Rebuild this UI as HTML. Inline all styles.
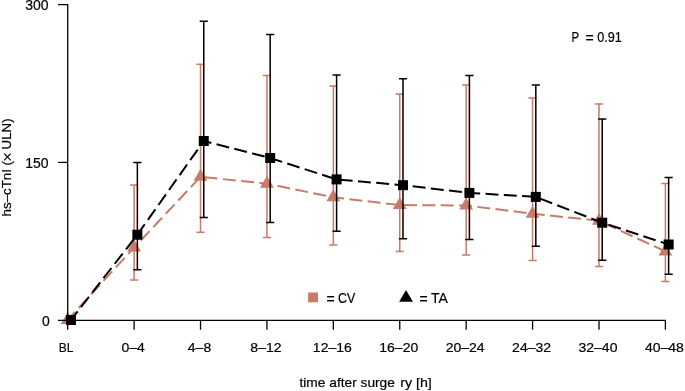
<!DOCTYPE html>
<html><head><meta charset="utf-8"><style>
html,body{margin:0;padding:0;background:#fff;width:685px;height:391px;overflow:hidden}
svg{display:block;font-family:"Liberation Sans",sans-serif}
</style></head><body>
<svg width="685" height="391" viewBox="0 0 685 391">
<rect width="685" height="391" fill="#fff"/>
<g stroke="#C77B68" stroke-width="1.5" fill="none"><path d="M134.11 185 V279.9 M130.01 185 H138.21 M130.01 279.9 H138.21"/><path d="M200.52 64.2 V232.2 M196.42 64.2 H204.62 M196.42 232.2 H204.62"/><path d="M266.93 75.5 V237.4 M262.83 75.5 H271.03 M262.83 237.4 H271.03"/><path d="M333.34 85.9 V244.9 M329.24 85.9 H337.44 M329.24 244.9 H337.44"/><path d="M399.75 94 V251.6 M395.65 94 H403.85 M395.65 251.6 H403.85"/><path d="M466.16 84.9 V255 M462.06 84.9 H470.26 M462.06 255 H470.26"/><path d="M532.57 98.1 V260.5 M528.47 98.1 H536.67 M528.47 260.5 H536.67"/><path d="M598.98 104 V266.4 M594.88 104 H603.08 M594.88 266.4 H603.08"/><path d="M665.39 183.4 V281.5 M661.29 183.4 H669.49 M661.29 281.5 H669.49"/></g><polyline points="67.7,320 134.11,247.5 200.52,176.8 266.93,183.7 333.34,197.3 399.75,205 466.16,205.5 532.57,213.7 598.98,220.7 665.39,251.4" fill="none" stroke="#C77B68" stroke-width="2" stroke-dasharray="12.95 5.37" stroke-dashoffset="2.0"/><path d="M67.7 312 L74.6 324 L60.8 324Z" fill="#C77B68"/><path d="M134.11 239.5 L141.01 251.5 L127.21 251.5Z" fill="#C77B68"/><path d="M200.52 168.8 L207.42 180.8 L193.62 180.8Z" fill="#C77B68"/><path d="M266.93 175.7 L273.83 187.7 L260.03 187.7Z" fill="#C77B68"/><path d="M333.34 189.3 L340.24 201.3 L326.44 201.3Z" fill="#C77B68"/><path d="M399.75 197 L406.65 209 L392.85 209Z" fill="#C77B68"/><path d="M466.16 197.5 L473.06 209.5 L459.26 209.5Z" fill="#C77B68"/><path d="M532.57 205.7 L539.47 217.7 L525.67 217.7Z" fill="#C77B68"/><path d="M598.98 212.7 L605.88 224.7 L592.08 224.7Z" fill="#C77B68"/><path d="M665.39 243.4 L672.29 255.4 L658.49 255.4Z" fill="#C77B68"/><g stroke="#000" stroke-width="1.3" fill="none" stroke-linecap="butt"><path d="M67.7 4.0 V329.7"/><path d="M58 4.6 H67.7"/><path d="M58 162.4 H67.7"/><path d="M58 320.35 H666.04"/><path d="M134.11 320.35 V329.7"/><path d="M200.52 320.35 V329.7"/><path d="M266.93 320.35 V329.7"/><path d="M333.34 320.35 V329.7"/><path d="M399.75 320.35 V329.7"/><path d="M466.16 320.35 V329.7"/><path d="M532.57 320.35 V329.7"/><path d="M598.98 320.35 V329.7"/><path d="M665.39 320.35 V329.7"/></g><g stroke="#000" stroke-width="1.5" fill="none"><path d="M137.36 162.5 V269.8 M133.26 162.5 H141.46 M133.26 269.8 H141.46"/><path d="M203.77 21.25 V217.4 M199.67 21.25 H207.87 M199.67 217.4 H207.87"/><path d="M270.18 34.47 V222.5 M266.08 34.47 H274.28 M266.08 222.5 H274.28"/><path d="M336.59 75 V231.3 M332.49 75 H340.69 M332.49 231.3 H340.69"/><path d="M403 78.8 V238.8 M398.9 78.8 H407.1 M398.9 238.8 H407.1"/><path d="M469.41 75.5 V239.6 M465.31 75.5 H473.51 M465.31 239.6 H473.51"/><path d="M535.82 85.1 V246.2 M531.72 85.1 H539.92 M531.72 246.2 H539.92"/><path d="M602.23 119 V260.3 M598.13 119 H606.33 M598.13 260.3 H606.33"/><path d="M668.64 177.6 V274.2 M664.54 177.6 H672.74 M664.54 274.2 H672.74"/></g><polyline points="70.95,320 137.36,234.7 203.77,141 270.18,158 336.59,179.4 403,185.2 469.41,192.9 535.82,196.9 602.23,222.7 668.64,244.5" fill="none" stroke="#000" stroke-width="2" stroke-dasharray="12.95 5.37" stroke-dashoffset="2.0"/><rect x="65.95" y="315" width="10" height="10" fill="#000"/><rect x="132.36" y="229.7" width="10" height="10" fill="#000"/><rect x="198.77" y="136" width="10" height="10" fill="#000"/><rect x="265.18" y="153" width="10" height="10" fill="#000"/><rect x="331.59" y="174.4" width="10" height="10" fill="#000"/><rect x="398" y="180.2" width="10" height="10" fill="#000"/><rect x="464.41" y="187.9" width="10" height="10" fill="#000"/><rect x="530.82" y="191.9" width="10" height="10" fill="#000"/><rect x="597.23" y="217.7" width="10" height="10" fill="#000"/><rect x="663.64" y="239.5" width="10" height="10" fill="#000"/><rect x="308.1" y="292.5" width="9.9" height="9.8" fill="#C77B68"/><path d="M406 289.9 L412.9 301.8 L399.1 301.8Z" fill="#000"/><g font-family="Liberation Sans, sans-serif" fill="#000" stroke="#000" stroke-width="0.2" style="filter:grayscale(1)"><text x="48.6" y="10.2" text-anchor="end" font-size="14" >300</text><text x="48.6" y="168" text-anchor="end" font-size="14" >150</text><text x="49.8" y="326" text-anchor="end" font-size="14" >0</text><text x="66" y="352.2" text-anchor="middle" font-size="13.2" textLength="14.6" lengthAdjust="spacingAndGlyphs">BL</text><text x="133.11" y="352.2" text-anchor="middle" font-size="13.2" textLength="23.36" lengthAdjust="spacingAndGlyphs">0–4</text><text x="199.52" y="352.2" text-anchor="middle" font-size="13.2" textLength="23.36" lengthAdjust="spacingAndGlyphs">4–8</text><text x="265.93" y="352.2" text-anchor="middle" font-size="13.2" textLength="31.16" lengthAdjust="spacingAndGlyphs">8–12</text><text x="332.34" y="352.2" text-anchor="middle" font-size="13.2" textLength="38.94" lengthAdjust="spacingAndGlyphs">12–16</text><text x="398.75" y="352.2" text-anchor="middle" font-size="13.2" textLength="38.94" lengthAdjust="spacingAndGlyphs">16–20</text><text x="465.16" y="352.2" text-anchor="middle" font-size="13.2" textLength="38.94" lengthAdjust="spacingAndGlyphs">20–24</text><text x="531.57" y="352.2" text-anchor="middle" font-size="13.2" textLength="38.94" lengthAdjust="spacingAndGlyphs">24–32</text><text x="597.98" y="352.2" text-anchor="middle" font-size="13.2" textLength="38.94" lengthAdjust="spacingAndGlyphs">32–40</text><text x="664.39" y="352.2" text-anchor="middle" font-size="13.2" textLength="38.94" lengthAdjust="spacingAndGlyphs">40–48</text><text x="571.6" y="41.5" text-anchor="start" font-size="14" textLength="7.6" lengthAdjust="spacingAndGlyphs">P</text><text x="585.5" y="43" text-anchor="start" font-size="14" >=</text><text x="597.2" y="41.5" text-anchor="start" font-size="14" textLength="24.6" lengthAdjust="spacingAndGlyphs">0.91</text><text x="326.5" y="304" text-anchor="start" font-size="14" >=</text><text x="338" y="302.6" text-anchor="start" font-size="14" textLength="17.2" lengthAdjust="spacingAndGlyphs">CV</text><text x="419.5" y="304" text-anchor="start" font-size="14" >=</text><text x="431" y="302.6" text-anchor="start" font-size="14" >TA</text><text x="299.5" y="386.9" text-anchor="start" font-size="13.2" textLength="95.4" lengthAdjust="spacingAndGlyphs">time after surge</text><text x="400.2" y="386.9" text-anchor="start" font-size="13.2" textLength="31.6" lengthAdjust="spacingAndGlyphs">ry [h]</text><text transform="translate(11.3 216.4) rotate(-90)" font-size="13.3">hs–cTnI (<tspan font-size="17.2" dx="-1.1" dy="2.0" stroke-width="0">×</tspan><tspan dx="-1.1" dy="-2.0"> ULN)</tspan></text></g>
</svg>
</body></html>
